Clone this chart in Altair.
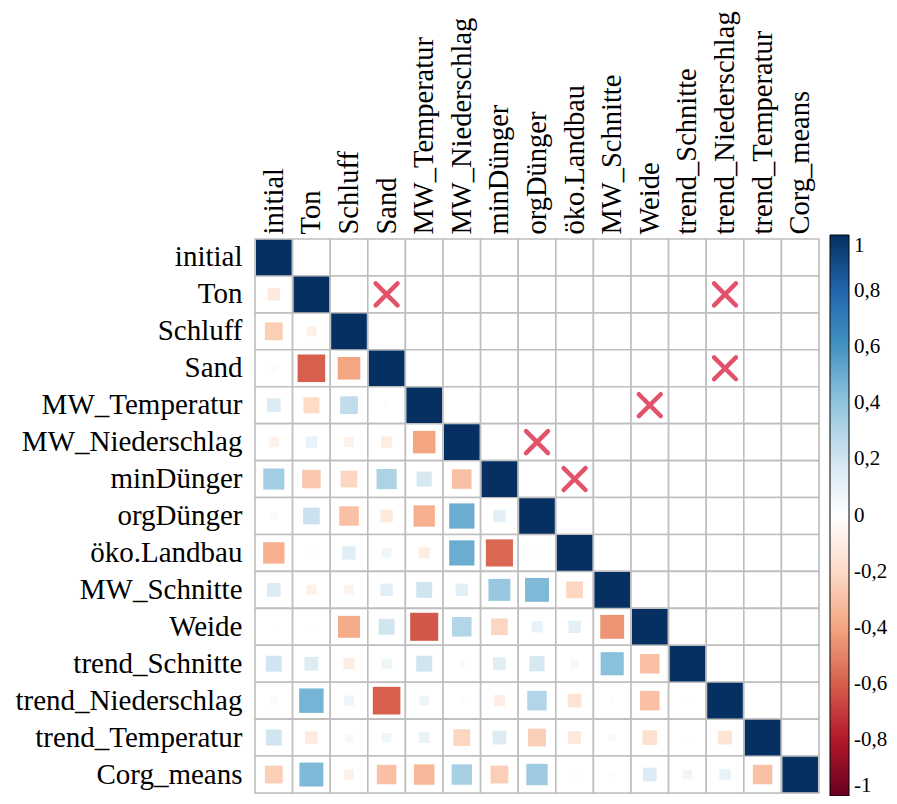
import altair as alt
import pandas as pd

variables = ["initial", "Ton", "Schluff", "Sand", "MW_Temperatur", "MW_Niederschlag",
             "minDünger", "orgDünger", "öko.Landbau", "MW_Schnitte", "Weide",
             "trend_Schnitte", "trend_Niederschlag", "trend_Temperatur", "Corg_means"]

# lower-triangle correlations, row by row (columns in the order of `variables`)
r_initial = []
r_Ton = [-0.12]
r_Schluff = [-0.25, -0.08]
r_Sand = [-0.03, -0.6, -0.4]
r_MW_Temperatur = [0.15, -0.2, 0.25, 0.02]
r_MW_Niederschlag = [-0.08, 0.1, -0.08, -0.1, -0.4]
r_minDuenger = [0.35, -0.27, -0.22, 0.32, 0.18, -0.3]
r_orgDuenger = [0.04, 0.22, -0.3, -0.12, -0.36, 0.5, 0.12]
r_oekoLandbau = [-0.36, -0.02, 0.14, 0.07, -0.1, 0.5, -0.58, -0.02]
r_MW_Schnitte = [0.15, -0.08, -0.07, 0.12, 0.2, 0.12, 0.38, 0.45, -0.22]
r_Weide = [0.01, -0.01, -0.38, 0.2, -0.62, 0.3, -0.22, 0.1, 0.12, -0.45]
r_trend_Schnitte = [0.2, 0.15, -0.1, 0.08, 0.2, 0.03, 0.13, 0.18, 0.05, 0.42, -0.3]
r_trend_Niederschlag = [0.04, 0.47, 0.08, -0.6, 0.08, -0.02, -0.1, 0.3, -0.15, -0.02, -0.3, -0.01]
r_trend_Temperatur = [0.2, -0.12, 0.05, 0.07, 0.09, -0.22, 0.15, -0.25, -0.13, 0.04, -0.17, -0.01, -0.15]
r_Corg_means = [-0.25, 0.45, -0.08, -0.3, -0.33, 0.33, -0.25, 0.36, 0.02, 0.02, 0.15, 0.07, 0.1, -0.3]

lower_rows = [r_initial, r_Ton, r_Schluff, r_Sand, r_MW_Temperatur, r_MW_Niederschlag,
              r_minDuenger, r_orgDuenger, r_oekoLandbau, r_MW_Schnitte, r_Weide,
              r_trend_Schnitte, r_trend_Niederschlag, r_trend_Temperatur, r_Corg_means]

# crossed (insignificant) cells
cross_rows = ["Ton", "Ton", "Sand", "MW_Temperatur", "MW_Niederschlag", "minDünger"]
cross_cols = ["Sand", "trend_Niederschlag", "trend_Niederschlag", "Weide", "orgDünger", "öko.Landbau"]

legend_values = [-1, -0.8, -0.6, -0.4, -0.2, 0, 0.2, 0.4, 0.6, 0.8, 1]
rdbu = ["#67001F", "#B2182B", "#D6604D", "#F4A582", "#FDDBC7", "#FFFFFF",
        "#D1E5F0", "#92C5DE", "#4393C3", "#2166AC", "#053061"]

# tables
grid_df = pd.DataFrame([{"row": r, "col": c} for r in variables for c in variables])
recs = []
for i, name in enumerate(variables):
    for j, v in enumerate(lower_rows[i]):
        recs.append({"row": name, "col": variables[j], "r": v, "absr": abs(v)})
    recs.append({"row": name, "col": name, "r": 1.0, "absr": 1.0})
corr_df = pd.DataFrame(recs)
cross_df = pd.DataFrame({"row": cross_rows, "col": cross_cols})

FONT = "Times New Roman, Liberation Serif, DejaVu Serif, serif"
x_enc = alt.X("col:N", sort=variables, title=None,
              scale=alt.Scale(domain=variables, paddingInner=0, paddingOuter=0),
              axis=alt.Axis(orient="top", labelAngle=-90, labelFont=FONT, labelFontSize=28.5,
                            labelColor="black", labelPadding=5, ticks=False, domain=False,
                            labelLimit=400))
y_enc = alt.Y("row:N", sort=variables, title=None,
              scale=alt.Scale(domain=variables, paddingInner=0, paddingOuter=0),
              axis=alt.Axis(orient="left", labelFont=FONT, labelFontSize=29,
                            labelColor="black", labelPadding=13, ticks=False, domain=False,
                            labelLimit=400))

grid = alt.Chart(grid_df).mark_rect(fill="white", stroke="#BEBEBE", strokeWidth=1.6).encode(
    x=x_enc, y=y_enc)

squares = alt.Chart(corr_df).mark_square(opacity=1, strokeWidth=0).encode(
    x=alt.X("col:N", sort=variables),
    y=alt.Y("row:N", sort=variables),
    size=alt.Size("absr:Q", scale=alt.Scale(domain=[0, 1], range=[0, 1270]), legend=None),
    color=alt.Color("r:Q",
                    scale=alt.Scale(domain=legend_values, range=rdbu, interpolate="rgb"),
                    legend=alt.Legend(orient="none", legendX=575, legendY=-4,
                                      direction="vertical", title=None,
                                      gradientLength=561, gradientThickness=19,
                                      gradientStrokeColor="black", gradientStrokeWidth=1,
                                      values=legend_values, labelFont=FONT, labelFontSize=21,
                                      labelColor="black", labelOffset=5, labelOverlap=False,
                                      labelExpr="replace(replace(format(datum.value, '~g'), '.', ','), '\u2212', '-')")),
)

crosses = alt.Chart(cross_df).mark_point(
    shape="M-1,-1L1,1M1,-1L-1,1", filled=False, stroke="#E2536B", strokeWidth=4.5,
    strokeCap="round", size=480, opacity=1).encode(
    x=alt.X("col:N", sort=variables),
    y=alt.Y("row:N", sort=variables))

chart = alt.layer(grid, squares, crosses).properties(
    width=564, height=554,
    autosize=alt.AutoSizeParams(type="none"),
    padding={"left": 247, "top": 231, "right": 70, "bottom": 3},
).configure_view(stroke=None).configure(background="white")

chart.save("out.html", embed_options={"renderer": "svg", "actions": False})
